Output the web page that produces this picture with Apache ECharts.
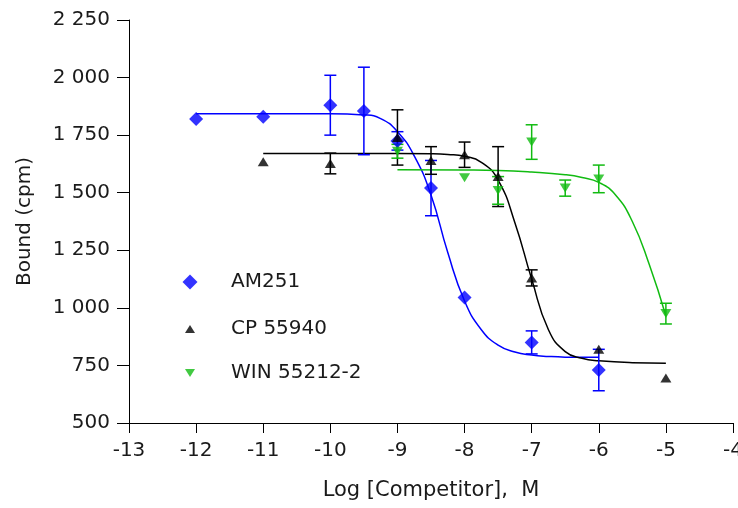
<!DOCTYPE html>
<html>
<head>
<meta charset="utf-8">
<script src="https://cdn.jsdelivr.net/npm/echarts@6/dist/echarts.min.js"></script>
<style>
  html, body { margin: 0; padding: 0; background: #fff; }
  #chart { width: 738px; height: 508px; }
</style>
</head>
<body>
<div id="chart"></div>
<script>
// measured points: log concentration, mean bound, error (0 = no bar)
const amX = [-12, -11, -10, -9.5, -9, -8.5, -8, -7, -6]
const amY = [1820, 1830, 1880, 1855, 1725, 1520, 1045, 850, 730]
const amErr = [0, 0, 130, 190, 40, 120, 0, 50, 90]

const cpX = [-11, -10, -9, -8.5, -8, -7.5, -7, -6, -5]
const cpY = [1635, 1627, 1740, 1640, 1665, 1570, 1130, 820, 695]
const cpErr = [0, 45, 120, 60, 55, 130, 35, 0, 0]

const winX = [-9, -8, -7.5, -7, -6.5, -6, -5]
const winY = [1680, 1565, 1510, 1720, 1520, 1560, 975]
const winErr = [30, 0, 60, 75, 35, 60, 45]

// fitted curves
const amCurveX = [-12, -10, -9.5, -9.25, -9, -8.75, -8.5, -8.25, -8, -7.75, -7.5, -7.25, -7, -6.75, -6.5, -6]
const amCurveY = [1843, 1843, 1838, 1822, 1765, 1660, 1490, 1240, 1030, 905, 838, 808, 795, 789, 786, 785]

const cpCurveX = [-11, -9, -8.5, -8.25, -8, -7.75, -7.5, -7.25, -7, -6.75, -6.5, -6.25, -6, -5.5, -5]
const cpCurveY = [1670, 1670, 1669, 1666, 1658, 1632, 1555, 1370, 1125, 905, 810, 781, 770, 762, 760]

const winCurveX = [-9, -8, -7.5, -7, -6.5, -6.25, -6, -5.75, -5.5, -5.25, -5]
const winCurveY = [1600, 1599, 1597, 1590, 1578, 1566, 1545, 1490, 1375, 1190, 965]

const blue = "#0000ff"
const black = "#000000"
const green = "#11bb11"

const zip = (xs, ys) => xs.map((x, i) => [x, ys[i]])
const zip3 = (xs, ys, es) => xs.map((x, i) => [x, ys[i], es[i]])

function errorBars(name, color, data) {
  return {
    name: name,
    type: "custom",
    data: data.filter((d) => d[2] > 0),
    z: 3,
    renderItem: (params, api) => {
      const x = api.value(0)
      const y = api.value(1)
      const e = api.value(2)
      const top = api.coord([x, y + e])
      const bot = api.coord([x, y - e])
      const w = 6
      const style = { stroke: color, lineWidth: 1.5 }
      return {
        type: "group",
        children: [
          { type: "line", shape: { x1: top[0], y1: top[1], x2: bot[0], y2: bot[1] }, style },
          { type: "line", shape: { x1: top[0] - w, y1: top[1], x2: top[0] + w, y2: top[1] }, style },
          { type: "line", shape: { x1: bot[0] - w, y1: bot[1], x2: bot[0] + w, y2: bot[1] }, style },
        ],
      }
    },
  }
}

function curve(name, color, data) {
  return {
    name: name,
    type: "line",
    data: data,
    smooth: 0.5,
    showSymbol: false,
    z: 2,
    lineStyle: { color: color, width: 1.5 },
  }
}

const labelFont = { fontFamily: "DejaVu Sans", fontSize: 20, color: "#1a1a1a" }

function legendItem(item, top, w, h) {
  return {
    orient: "vertical",
    left: 185 - w / 2,
    top: top,
    itemWidth: w,
    itemHeight: h,
    textStyle: { ...labelFont, padding: [0, 0, 0, 36 - w / 2] },
    data: [item],
  }
}

const chart = echarts.init(document.getElementById("chart"), null, { renderer: "canvas" })
chart.setOption({
  animation: false,
  grid: { left: 129, right: 5, top: 20, bottom: 85, outerBoundsMode: "none" },
  xAxis: {
    type: "value",
    min: -13,
    max: -4,
    interval: 1,
    name: "Log [Competitor],  M",
    nameLocation: "middle",
    nameGap: 57,
    nameTextStyle: { ...labelFont, fontSize: 21 },
    axisLine: { lineStyle: { color: "#000", width: 1 } },
    axisTick: { length: 10, lineStyle: { color: "#000" } },
    axisLabel: { ...labelFont, margin: 18 },
    splitLine: { show: false },
  },
  yAxis: {
    type: "value",
    min: 500,
    max: 2250,
    interval: 250,
    name: "Bound (cpm)",
    nameLocation: "middle",
    nameGap: 94,
    nameTextStyle: labelFont,
    axisLine: { show: true, lineStyle: { color: "#000", width: 1 } },
    axisTick: { show: true, length: 12, lineStyle: { color: "#000" } },
    axisLabel: {
      ...labelFont,
      margin: 19,
      formatter: (v) => String(v).replace(/\B(?=(\d{3})+(?!\d))/g, " "),
    },
    splitLine: { show: false },
  },
  legend: [
    legendItem("AM251", 267, 15, 15),
    legendItem("CP 55940", 314, 10, 8),
    legendItem({ name: "WIN 55212-2", icon: "path://M0,0L10,0L5,8Z" }, 358, 10, 8),
  ],
  series: [
    curve("am-fit", blue, zip(amCurveX, amCurveY)),
    curve("cp-fit", black, zip(cpCurveX, cpCurveY)),
    curve("win-fit", green, zip(winCurveX, winCurveY)),
    errorBars("am-err", blue, zip3(amX, amY, amErr)),
    errorBars("cp-err", black, zip3(cpX, cpY, cpErr)),
    errorBars("win-err", green, zip3(winX, winY, winErr)),
    {
      name: "AM251",
      type: "scatter",
      symbol: "diamond",
      symbolSize: 14,
      z: 4,
      itemStyle: { color: blue },
      data: zip(amX, amY),
    },
    {
      name: "CP 55940",
      type: "scatter",
      symbol: "triangle",
      symbolSize: [11, 9],
      z: 4,
      itemStyle: { color: black },
      data: zip(cpX, cpY),
    },
    {
      name: "WIN 55212-2",
      type: "scatter",
      symbol: "triangle",
      symbolRotate: 180,
      symbolSize: [11, 9],
      z: 4,
      itemStyle: { color: green },
      data: zip(winX, winY),
    },
  ],
})
</script>
</body>
</html>
